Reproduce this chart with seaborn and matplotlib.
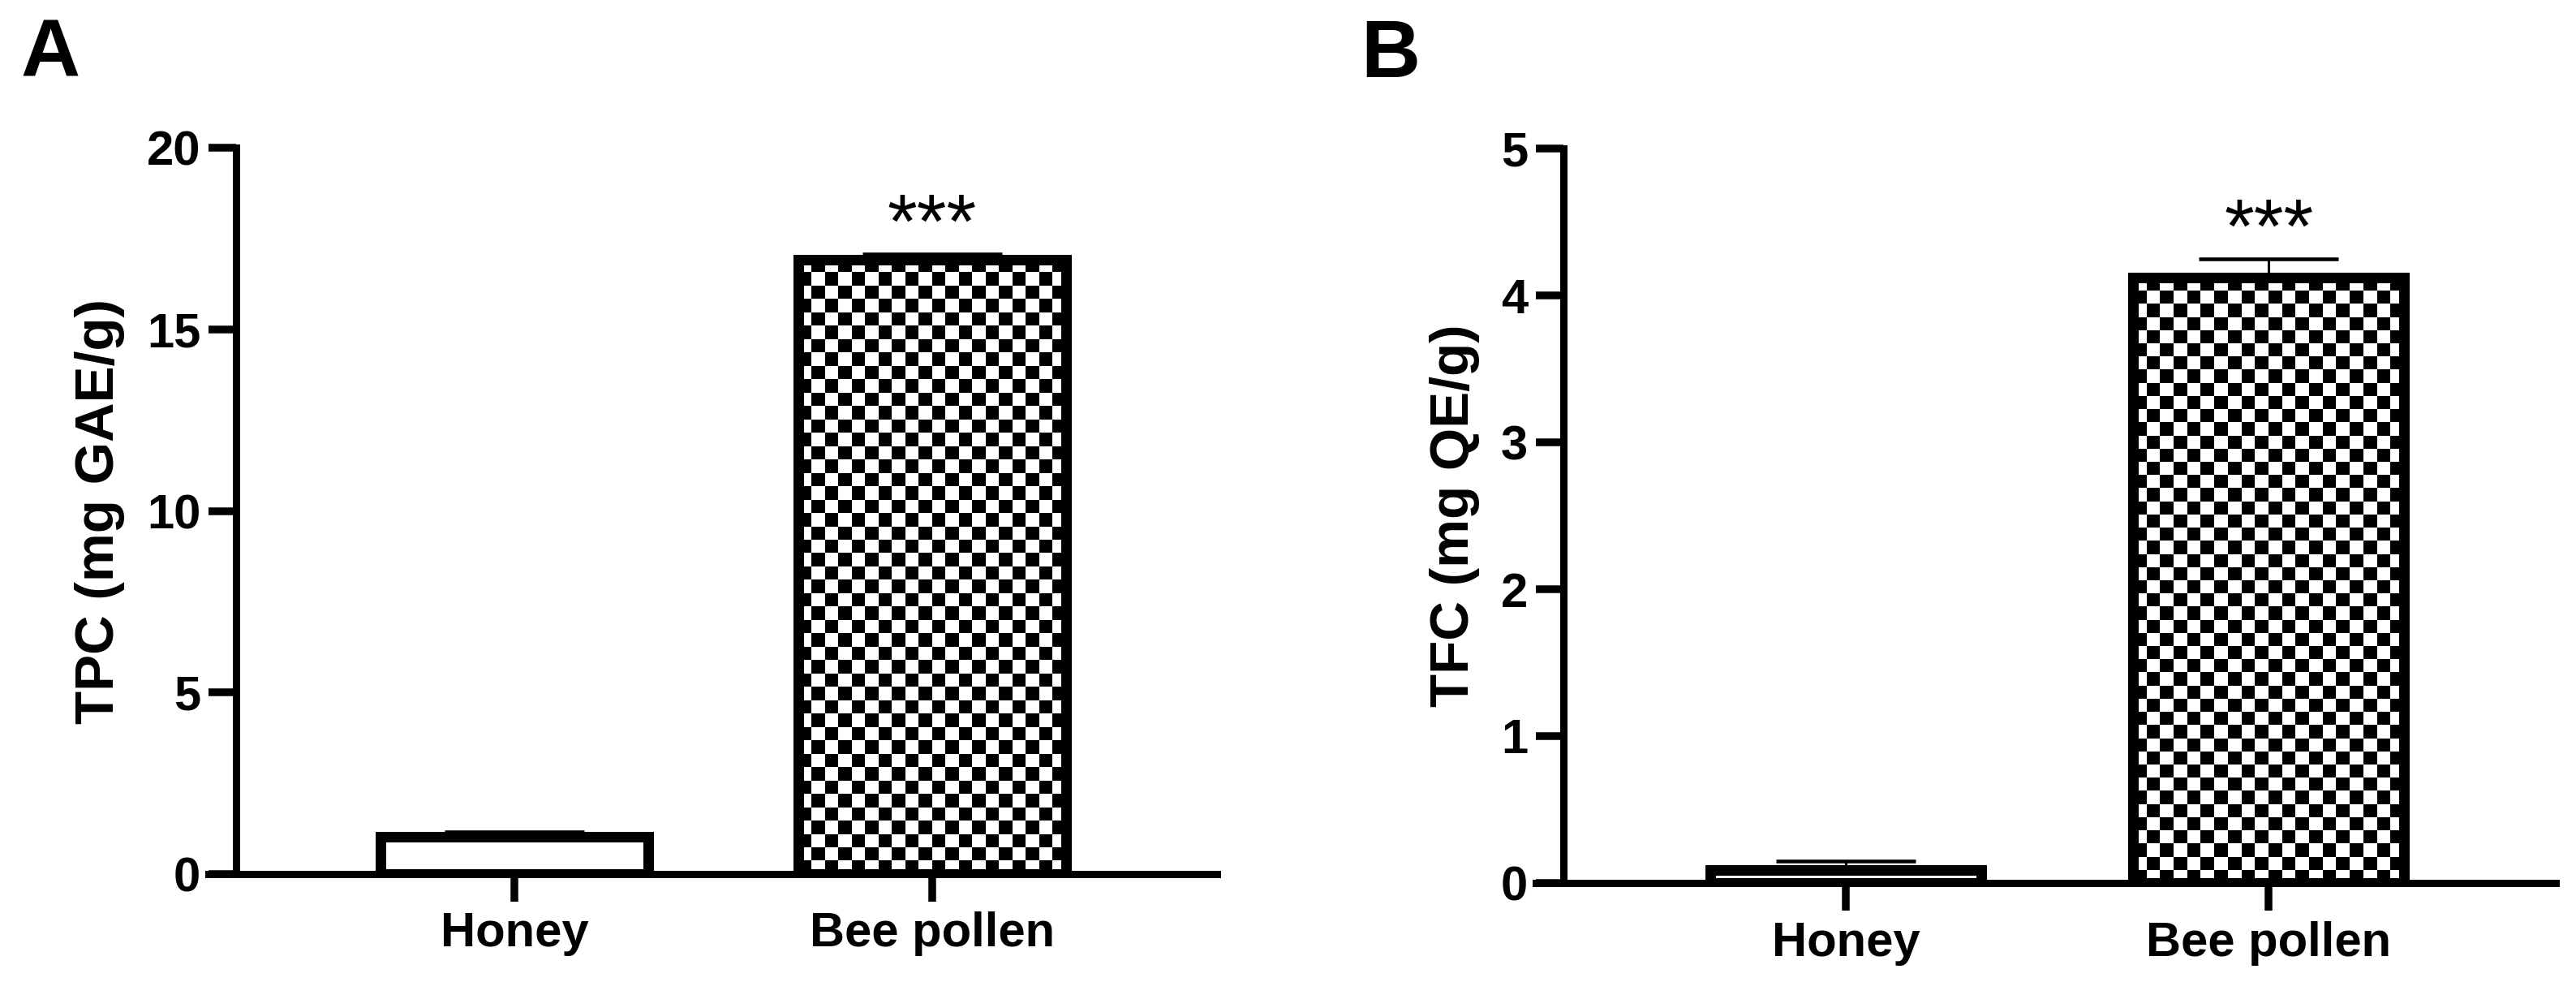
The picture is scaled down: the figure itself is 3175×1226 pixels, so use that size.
import numpy as np
import matplotlib
matplotlib.use("Agg")
import matplotlib.pyplot as plt
import seaborn as sns

# values (mean and upper error bar)
categories = ["Honey", "Bee pollen"]
tpc_mean = [1.03, 16.92]
tpc_err = [0.14, 0.15]
tfc_mean = [0.09, 4.12]
tfc_err = [0.06, 0.13]
tpc_ticks = [0, 5, 10, 15, 20]
tfc_ticks = [0, 1, 2, 3, 4, 5]

sns.set_style("ticks", {"axes.edgecolor": "black", "xtick.color": "black",
                        "ytick.color": "black", "text.color": "black",
                        "axes.labelcolor": "black"})
plt.rcParams["font.family"] = ["Liberation Sans", "DejaVu Sans"]
plt.rcParams["font.weight"] = "bold"

PX = 72 / 100  # points per pixel at dpi 100
W, H = 3175, 1226

fig = plt.figure(figsize=(W / 100, H / 100), dpi=100)


def checker_fill(ax, bar, square_px=16.3):
    # checkerboard texture clipped to the bar
    x0, y0 = bar.get_x(), bar.get_y()
    w, h = bar.get_width(), bar.get_height()
    (px0, py0), (px1, py1) = ax.transData.transform([(x0, y0), (x0 + w, y0 + h)])
    nx = max(1, int(round((px1 - px0) / square_px)))
    ny = max(1, int(round((py1 - py0) / square_px)))
    board = (np.indices((ny, nx)).sum(axis=0) % 2).astype(float)
    im = ax.imshow(board, cmap="binary", vmin=0, vmax=1, origin="upper",
                   extent=(x0, x0 + w, y0, y0 + h), aspect="auto",
                   interpolation="nearest", zorder=0.9)
    im.set_clip_path(bar)


def draw_panel(rect, means, errs, ticks, ylabel, xlim, spine_x):
    ax = fig.add_axes(rect)
    sns.barplot(x=categories, y=means, ax=ax, width=0.64, color="white",
                saturation=1, edgecolor="black", linewidth=13 * PX,
                errorbar=None)
    ax.errorbar(x=np.arange(len(categories)), y=means,
                yerr=[np.zeros(len(errs)), errs], fmt="none", ecolor="black",
                elinewidth=2.2, capsize=62, capthick=3.3, zorder=3)
    ax.set_xlim(*xlim)
    ax.set_ylim(ticks[0], ticks[-1])
    ax.set_yticks(ticks)

    bar = ax.patches[1]
    bar.set_facecolor("none")
    checker_fill(ax, bar)
    ax.set_xlim(*xlim)
    ax.set_ylim(ticks[0], ticks[-1])

    for side in ["top", "right"]:
        ax.spines[side].set_visible(False)
    for side in ["left", "bottom"]:
        ax.spines[side].set_linewidth(9 * PX)
        ax.spines[side].set_color("black")
    ax.spines["left"].set_position(("data", spine_x))

    ax.tick_params(axis="both", direction="out", length=34 * PX,
                   width=9.5 * PX, pad=7, labelsize=43)
    ax.tick_params(axis="x", pad=9)
    for lab in ax.get_xticklabels() + ax.get_yticklabels():
        lab.set_fontweight("bold")
    ax.set_xlabel("")
    ax.set_ylabel(ylabel, fontsize=48.5, fontweight="bold", labelpad=19)

    ax.annotate("***", xy=(1, means[1] + errs[1]), xytext=(0, 6),
                textcoords="offset points", ha="center", va="baseline",
                fontsize=68, fontweight="normal")
    return ax


draw_panel([257 / W, 1 - 1077 / H, 1243 / W, (1077 - 182) / H],
           tpc_mean, tpc_err, tpc_ticks, "TPC (mg GAE/g)",
           (-0.732, 1.682), -0.666)
draw_panel([1893 / W, 1 - 1088 / H, 1257 / W, (1088 - 183) / H],
           tfc_mean, tfc_err, tfc_ticks, "TFC (mg QE/g)",
           (-0.733, 1.679), -0.668)

fig.text(25 / W, 1 - 95 / H, "A", fontsize=73, fontweight="bold",
         ha="left", va="baseline")
fig.text(1677 / W, 1 - 95 / H, "B", fontsize=73, fontweight="bold",
         ha="left", va="baseline")

fig.savefig("out.png", dpi=100, facecolor="white")
